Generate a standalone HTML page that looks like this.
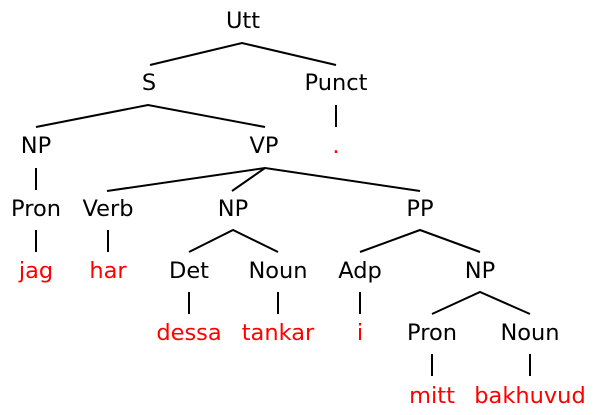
<!DOCTYPE html>
<html><head><style>body{margin:0;background:#fff}</style></head><body>
<svg width="596" height="415" xmlns="http://www.w3.org/2000/svg" style="display:block">
<g style="font-family:'DejaVu Sans','Liberation Sans',sans-serif;font-size:22.5px" text-anchor="middle">
<text x="243" y="28">Utt</text>
<text x="149" y="90">S</text>
<text x="336" y="90">Punct</text>
<text x="36" y="153">NP</text>
<text x="264" y="153">VP</text>
<text x="336" y="153" fill="#f00">.</text>
<text x="36" y="216">Pron</text>
<text x="108" y="216">Verb</text>
<text x="233" y="216">NP</text>
<text x="420" y="216">PP</text>
<text x="36" y="278" fill="#f00">jag</text>
<text x="108" y="278" fill="#f00">har</text>
<text x="189" y="278">Det</text>
<text x="278" y="278">Noun</text>
<text x="360" y="278">Adp</text>
<text x="480" y="278">NP</text>
<text x="189" y="340" fill="#f00">dessa</text>
<text x="278" y="340" fill="#f00">tankar</text>
<text x="360" y="340" fill="#f00">i</text>
<text x="432" y="340">Pron</text>
<text x="530" y="340">Noun</text>
<text x="432" y="403" fill="#f00">mitt</text>
<text x="530" y="403" fill="#f00">bakhuvud</text>
</g>
<g stroke="#000" stroke-width="2" fill="none">
<path d="M150 65L242 43L336 65"/>
<path d="M36 127L148 105L265 127"/>
<path d="M336 105V127"/>
<path d="M36 168V190"/>
<path d="M107 191L265 168L420 191M232 191L265 168"/>
<path d="M36 230V252M108 230V252"/>
<path d="M189 252L233 230L278 252"/>
<path d="M360 252L420 230L480 252"/>
<path d="M189 292V314M278 292V314M360 292V314"/>
<path d="M432 314L480 292L530 314"/>
<path d="M432 354V376M530 354V376"/>
</g>
</svg>
</body></html>
